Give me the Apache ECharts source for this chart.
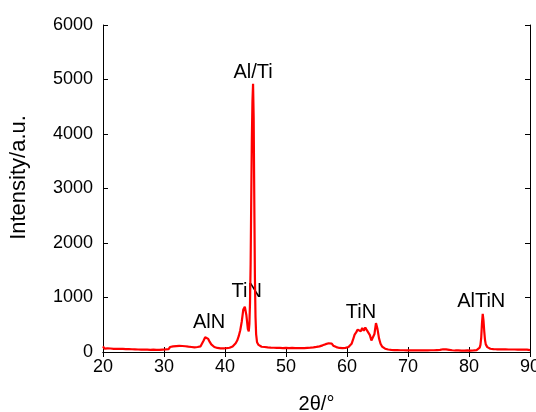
<!DOCTYPE html>
<html>
<head>
<meta charset="utf-8">
<script src="https://cdn.jsdelivr.net/npm/echarts@6/dist/echarts.min.js"></script>
<style>html,body{margin:0;padding:0;background:#fff}#c{width:536px;height:412px}</style>
</head>
<body>
<div id="c"></div>
<script>
// 2θ (degrees) and intensity (a.u.)
var twoTheta = [
  20.00,20.25,20.50,20.75, 21.00,21.25,21.50,21.75, 22.00,22.25,22.50,22.75,
  23.00,23.25,23.50,23.75, 24.00,24.25,24.50,24.75, 25.00,25.25,25.50,25.75,
  26.00,26.25,26.50,26.75, 27.00,27.25,27.50,27.75, 28.00,28.25,28.50,28.75,
  29.00,29.25,29.50,29.75, 30.00,30.25,30.50,30.75, 31.00,31.25,31.50,31.75,
  32.00,32.25,32.50,32.75, 33.00,33.25,33.50,33.75, 34.00,34.25,34.50,34.75,
  35.00,35.25,35.50,35.75, 36.00,36.25,36.50,36.75, 37.00,37.25,37.50,37.75,
  38.00,38.25,38.50,38.75, 39.00,39.25,39.50,39.75, 40.00,40.25,40.50,40.75,
  41.00,41.25,41.50,41.75, 42.00,42.25,42.50,42.75, 43.00,43.25,43.50,43.75,
  43.90,44.00,44.10,44.20,44.30,44.40,44.50,44.60,44.70,44.80,44.90,45.00,45.10,
  45.25,45.50,45.75,
  46.00,46.25,46.50,46.75, 47.00,47.25,47.50,47.75, 48.00,48.25,48.50,48.75,
  49.00,49.25,49.50,49.75, 50.00,50.25,50.50,50.75, 51.00,51.25,51.50,51.75,
  52.00,52.25,52.50,52.75, 53.00,53.25,53.50,53.75, 54.00,54.25,54.50,54.75,
  55.00,55.25,55.50,55.75, 56.00,56.25,56.50,56.75, 57.00,57.25,57.50,57.75,
  58.00,58.25,58.50,58.75, 59.00,59.25,59.50,59.75, 60.00,60.25,60.50,60.75,
  61.00,61.25,61.50,61.75, 62.00,62.25,62.50,62.75, 63.00,63.25,63.50,63.75,
  64.00,64.25,64.50,64.75, 65.00,65.25,65.50,65.75, 66.00,66.25,66.50,66.75,
  67.00,67.25,67.50,67.75, 68.00,68.25,68.50,68.75, 69.00,69.25,69.50,69.75,
  70.00,70.25,70.50,70.75, 71.00,71.25,71.50,71.75, 72.00,72.25,72.50,72.75,
  73.00,73.25,73.50,73.75, 74.00,74.25,74.50,74.75, 75.00,75.25,75.50,75.75,
  76.00,76.25,76.50,76.75, 77.00,77.25,77.50,77.75, 78.00,78.25,78.50,78.75,
  79.00,79.25,79.50,79.75, 80.00,80.25,80.50,80.75, 81.00,81.25,81.50,
  81.75,81.875,82.00,82.125,82.25,82.375,82.50,82.625,82.75,
  83.00,83.25,83.50,83.75, 84.00,84.25,84.50,84.75, 85.00,85.25,85.50,85.75,
  86.00,86.25,86.50,86.75, 87.00,87.25,87.50,87.75, 88.00,88.25,88.50,88.75,
  89.00,89.25,89.50,89.75, 90.00
];
var intensity = [
  102,62,96,66, 98,64,92,58, 94,60,90,56,
  92,58,88,54, 86,52,84,50, 82,48,80,46,
  80,45,78,44, 76,42,74,40, 74,42,72,40,
  72,40,74,44, 78,48,84,54, 92,62,102,72,
  108,76,112,80, 110,76,106,70, 98,62,92,56,
  86,56,92,68, 104,140,210,272, 282,240,185,140,
  122,92,100,74, 100,68,98,66, 96,70,104,78,
  110,102,138,160, 210,290,400,560, 780,830,680,420,
  380,520,900,1600,2800,3900,4600,4920,4300,2800,1400,650,330,
  180,130,100,
  96,62,92,56, 84,50,80,46, 78,44,76,42,
  74,42,72,42, 76,44,72,40, 74,42,72,40,
  72,40,70,38, 72,42,76,46, 80,50,86,58,
  94,66,104,92, 122,110,144,132, 160,128,154,116,
  128,90,104,74, 98,70,102,76, 108,92,124,150,
  230,320,360,410, 430,380,440,390, 450,400,375,310,
  210,180,330,530, 420,250,150,100, 92,60,78,46,
  70,40,66,36, 64,34,62,32, 62,32,60,30,
  60,30,58,30, 58,28,56,28, 58,30,56,28,
  58,30,60,32, 60,32,62,36, 64,40,72,50,
  78,48,74,40, 62,32,58,28, 56,28,54,26,
  54,26,54,28, 54,26,56,30, 58,36,66,
  80,130,260,520,700,580,380,220,140,
  90,54,60,34, 52,24,50,22, 50,22,48,22,
  48,20,46,20, 46,20,46,20, 44,18,44,18,
  42,16,42,18, 34
];
// peak annotations
var peakNames = ['AlN', 'TiN', 'Al/Ti', 'TiN', 'AlTiN'];
var peakLabelX = [37.4, 43.55, 44.6, 62.3, 82.0];
var peakLabelY = [540, 1105, 5130, 720, 925];
var xTicks = [20, 30, 40, 50, 60, 70, 80, 90];
var yTicks = [0, 1000, 2000, 3000, 4000, 5000, 6000];

var lineData = twoTheta.map(function (t, i) { return [t, intensity[i]]; });
var labelData = peakNames.map(function (n, i) { return [peakLabelX[i], peakLabelY[i], n]; });

var font = 'Liberation Sans, Arial, sans-serif';
var axisCommon = {
  axisLine: { show: true, lineStyle: { color: '#000', width: 1 } },
  axisTick: { show: true, inside: true, length: 5, lineStyle: { color: '#000' } },
  splitLine: { show: false }
};
var chart = echarts.init(document.getElementById('c'), null, { renderer: 'canvas' });
chart.setOption({
  animation: false,
  backgroundColor: '#fff',
  grid: { left: 103, right: 6, top: 25, bottom: 60, outerBoundsMode: 'none', containLabel: false },
  xAxis: [
    Object.assign({
      type: 'value', position: 'bottom', min: xTicks[0], max: xTicks[xTicks.length - 1], interval: 10,
      name: '2θ/°', nameLocation: 'middle', nameGap: 42,
      nameTextStyle: { color: '#000', fontSize: 20, fontFamily: font },
      axisLabel: { color: '#000', fontSize: 18, fontFamily: font, margin: 6,
        formatter: function (v) { return String(v); } }
    }, axisCommon),
    Object.assign({
      type: 'value', position: 'top', min: xTicks[0], max: xTicks[xTicks.length - 1], interval: 10,
      axisLabel: { show: false }
    }, axisCommon)
  ],
  yAxis: [
    Object.assign({
      type: 'value', position: 'left', min: yTicks[0], max: yTicks[yTicks.length - 1], interval: 1000,
      name: 'Intensity/a.u.', nameLocation: 'middle', nameGap: 73,
      nameTextStyle: { color: '#000', fontSize: 22, fontFamily: font, padding: [0, 0, 0, 22] },
      axisLabel: { color: '#000', fontSize: 18, fontFamily: font, margin: 10,
        formatter: function (v) { return String(v); } }
    }, axisCommon),
    Object.assign({
      type: 'value', position: 'right', min: yTicks[0], max: yTicks[yTicks.length - 1], interval: 1000,
      axisLabel: { show: false }
    }, axisCommon)
  ],
  series: [
    {
      type: 'line', data: lineData, xAxisIndex: 0, yAxisIndex: 0,
      showSymbol: false, symbol: 'none', sampling: null, smooth: false,
      lineStyle: { color: '#ff0000', width: 2.2 }, silent: true
    },
    {
      type: 'scatter', data: labelData, symbolSize: 0, silent: true,
      itemStyle: { opacity: 1 },
      label: {
        show: true, position: 'inside', color: '#000', opacity: 1, fontSize: 20, fontFamily: font,
        formatter: function (p) { return p.data[2]; }
      }
    }
  ]
});
</script>
</body>
</html>
